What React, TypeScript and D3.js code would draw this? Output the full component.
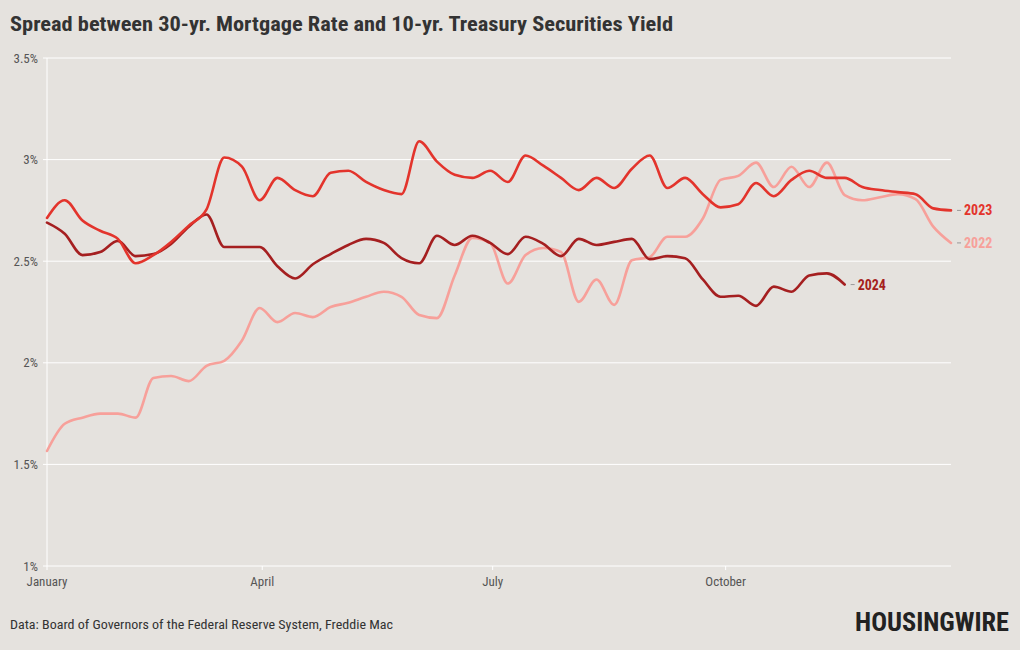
import React from "react";
import * as d3 from "d3";

const title = "Spread between 30-yr. Mortgage Rate and 10-yr. Treasury Securities Yield";
const source = "Data: Board of Governors of the Federal Reserve System, Freddie Mac";
const brand = "HOUSINGWIRE";

// Weekly Freddie Mac survey weeks (reference calendar: first Thursday of Jan to last Thursday of Dec)
const firstWeek = new Date(2022, 0, 6);
const lastWeek = new Date(2022, 11, 29);

const yTicks = [1, 1.5, 2, 2.5, 3, 3.5];
const xTickDates = [new Date(2022, 0, 6), new Date(2022, 3, 1), new Date(2022, 6, 1), new Date(2022, 9, 1)];
const xTickLabels = ["January", "April", "July", "October"];

const spread2022 = [
  1.566, 1.70, 1.73, 1.75, 1.75, 1.73, 1.925, 1.935, 1.91, 1.985,
  2.01, 2.11, 2.27, 2.20, 2.245, 2.225, 2.275, 2.295, 2.325, 2.35,
  2.325, 2.235, 2.22, 2.43, 2.615, 2.59, 2.39, 2.53, 2.565, 2.545,
  2.30, 2.41, 2.285, 2.505, 2.52, 2.62, 2.62, 2.71, 2.90, 2.92,
  2.985, 2.865, 2.965, 2.865, 2.985, 2.825, 2.80, 2.815, 2.83, 2.805,
  2.67, 2.59,
];
const spread2023 = [
  2.713, 2.80, 2.70, 2.65, 2.61, 2.49, 2.53, 2.595, 2.675, 2.755,
  3.01, 2.965, 2.80, 2.91, 2.85, 2.82, 2.935, 2.945, 2.89, 2.85,
  2.83, 3.09, 2.99, 2.925, 2.91, 2.945, 2.89, 3.02, 2.97, 2.91,
  2.85, 2.91, 2.86, 2.955, 3.02, 2.86, 2.91, 2.83, 2.765, 2.78,
  2.885, 2.82, 2.90, 2.945, 2.91, 2.91, 2.865, 2.85, 2.84, 2.83,
  2.76, 2.75,
];
const spread2024 = [
  2.69, 2.635, 2.53, 2.545, 2.60, 2.525, 2.535, 2.585, 2.67, 2.73,
  2.57, 2.57, 2.57, 2.475, 2.415, 2.485, 2.535, 2.58, 2.61, 2.59,
  2.515, 2.49, 2.625, 2.58, 2.625, 2.59, 2.535, 2.62, 2.585, 2.525,
  2.61, 2.58, 2.595, 2.61, 2.51, 2.525, 2.515, 2.41, 2.325, 2.33,
  2.28, 2.375, 2.35, 2.43, 2.44, 2.385,
];

const seriesNames = ["2022", "2023", "2024"];
const seriesData = [spread2022, spread2023, spread2024];
const seriesColors = ["#f7a09a", "#e3342c", "#a51f20"];

const W = 1020;
const H = 650;
const M = { left: 47, right: 951, top: 58, bottom: 566 };

export default function App() {
  const x = d3.scaleTime().domain([firstWeek, lastWeek]).range([M.left, M.right]);
  const y = d3.scaleLinear().domain([1, 3.5]).range([M.bottom, M.top]);
  const weekDate = (i: number) => d3.timeDay.offset(firstWeek, i * 7);
  const line = d3
    .line<number>()
    .x((_, i) => x(weekDate(i)))
    .y((d) => y(d))
    .curve(d3.curveMonotoneX);

  const font = "'Roboto Condensed', 'Liberation Sans Narrow', 'DejaVu Sans Condensed', Roboto, sans-serif";
  const fmt = (v: number) => `${v}%`;
  const order = [0, 2, 1];

  return (
    <svg width={W} height={H} style={{ position: "absolute", left: 0, top: 0, background: "#e5e2de" }} fontFamily={font}>
      <rect x={0} y={0} width={W} height={H} fill="#e5e2de" />
      <text x={10} y={31} fontSize={21} fontWeight={700} fill="#333" textLength={663} lengthAdjust="spacingAndGlyphs">
        {title}
      </text>
      {yTicks.map((t) => (
        <g key={t}>
          <line x1={M.left} x2={M.right} y1={y(t)} y2={y(t)} stroke="#fff" strokeWidth={1} />
          <line x1={M.left - 4} x2={M.left} y1={y(t)} y2={y(t)} stroke="#fff" strokeWidth={1} />
          <text x={M.left - 9} y={y(t) + 4.5} fontSize={13} fill="#555" textAnchor="end">
            {fmt(t)}
          </text>
        </g>
      ))}
      <line x1={M.left} x2={M.left} y1={M.top} y2={M.bottom} stroke="#fff" strokeWidth={1} />
      {xTickDates.map((d, i) => (
        <g key={i}>
          <line x1={x(d)} x2={x(d)} y1={M.bottom} y2={M.bottom + 4} stroke="#fff" strokeWidth={1} />
          <text x={x(d)} y={M.bottom + 20} fontSize={13} fill="#555" textAnchor="middle">
            {xTickLabels[i]}
          </text>
        </g>
      ))}
      {order.map((k) => (
        <path
          key={seriesNames[k]}
          d={line(seriesData[k]) || ""}
          fill="none"
          stroke={seriesColors[k]}
          strokeWidth={2.6}
          strokeLinejoin="round"
          strokeLinecap="round"
        />
      ))}
      {seriesNames.map((name, k) => {
        const vals = seriesData[k];
        const last = vals.length - 1;
        const lx = x(weekDate(last));
        const ly = y(vals[last]);
        return (
          <g key={name}>
            <line x1={lx + 6} x2={lx + 10} y1={ly} y2={ly} stroke="#999" strokeWidth={1} />
            <text x={lx + 13} y={ly + 5} fontSize={14} fontWeight={700} fill={seriesColors[k]}>
              {name}
            </text>
          </g>
        );
      })}
      <text x={10} y={629} fontSize={13.5} fill="#333" textLength={383} lengthAdjust="spacingAndGlyphs">
        {source}
      </text>
      <text x={855} y={631} fontSize={25} fontWeight={700} fill="#222" textLength={154} lengthAdjust="spacingAndGlyphs" fontFamily="'Liberation Sans Narrow', 'Roboto Condensed', sans-serif">
        {brand}
      </text>
    </svg>
  );
}
